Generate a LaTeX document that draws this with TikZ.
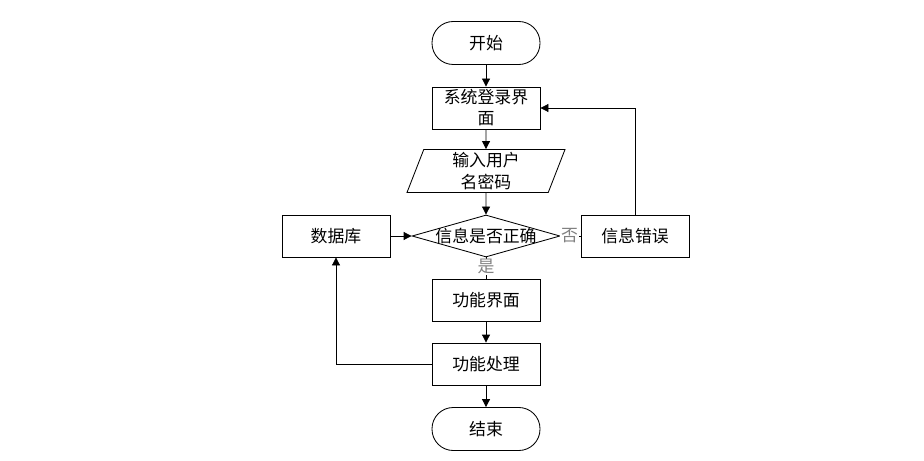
\documentclass[tikz,border=0pt]{standalone}
\usepackage{fontspec}
\setmainfont{Noto Sans CJK SC}
\usepackage{tikz}
\usetikzlibrary{shapes.geometric,arrows.meta}

\begin{document}
\begin{tikzpicture}[line width=0.6pt, >={Triangle[length=2mm,width=2mm]},
    every node/.style={font=\fontsize{12}{15}\selectfont},
    terminal/.style={draw, rectangle, rounded corners=0.53cm, minimum width=2.7cm, minimum height=1.075cm},
    procbox/.style={draw, rectangle, minimum width=2.7cm, minimum height=1.05cm, align=center, inner sep=1pt},
    inbox/.style={draw, trapezium, trapezium left angle=67, trapezium right angle=113, trapezium stretches body, minimum width=3.95cm, minimum height=1.075cm, align=center, inner sep=1pt},
    decision/.style={draw, diamond, minimum width=3.7cm, minimum height=1.05cm, inner sep=0pt},
    answer/.style={fill=white, text=gray, inner sep=0.5pt}]
    \useasboundingbox (0,0) rectangle (23.1,-11.525);
    % Flow boxes
    \node[terminal] (start) at (12.15,-1.075) {开始};
    \node[procbox] (login) at (12.15,-2.7) {系统登录界\\面};
    \node[inbox] (input) at (12.15,-4.275) {输入用户\\名密码};
    \node[decision, label=center:信息是否正确] (check) at (12.15,-5.9) {};
    \node[procbox] (db) at (8.4,-5.9) {数据库};
    \node[procbox] (err) at (15.875,-5.9) {信息错误};
    \node[procbox] (func) at (12.15,-7.5) {功能界面};
    \node[procbox] (proc) at (12.15,-9.1) {功能处理};
    \node[terminal] (stop) at (12.15,-10.725) {结束};
    % Connectors
    \draw[->] (start) -- (login);
    \draw[->] (login) -- (input);
    \draw[->] (input) -- (check);
    \draw[->] (db) -- (check.west);
    \draw (check.east) -- node[answer, pos=0.45] (no) {否} (err);
    \draw[->] (err.north) |- (login.east);
    \draw (check.south) -- node[answer, pos=0.45] (yes) {是} (func);
    \draw[->] (func) -- (proc);
    \draw[->] (proc) -- (stop);
    \draw[->] (proc.west) -| (db.south);
\end{tikzpicture}
\end{document}
